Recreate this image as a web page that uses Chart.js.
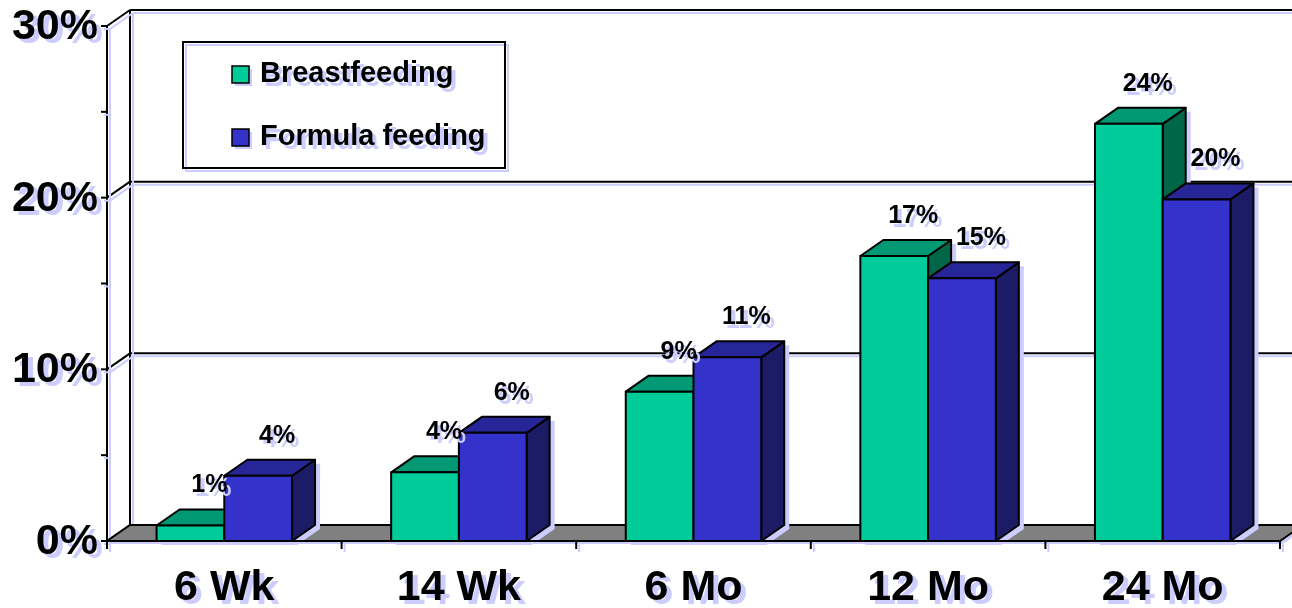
<!DOCTYPE html>
<html><head><meta charset="utf-8">
<script src="https://cdn.jsdelivr.net/npm/chart.js@4.4.0/dist/chart.umd.min.js"></script>
<style>html,body{margin:0;padding:0;background:#fff;overflow:hidden}canvas{display:block}</style>
</head><body>
<canvas id="c" width="1292" height="608"></canvas>
<script>
const categories = ['6 Wk', '14 Wk', '6 Mo', '12 Mo', '24 Mo'];
const breastfeeding = [0.9, 4.0, 8.7, 16.6, 24.3];
const formulaFeeding = [3.8, 6.3, 10.7, 15.3, 19.9];
const breastfeedingLabels = ['1%', '4%', '9%', '17%', '24%'];
const formulaFeedingLabels = ['4%', '6%', '11%', '15%', '20%'];
const yTickValues = [0, 10, 20, 30];
const yMinorTickValues = [5, 15, 25];
const seriesNames = ['Breastfeeding', 'Formula feeding'];

const FRONT = ['#00CC99', '#3333CC'];
const TOP = ['#009973', '#262699'];
const SIDE = ['#006648', '#1C1C66'];
const SH = '#CCCCFF';
const DX = 23, DY = 16;
const FONT = '"Liberation Sans", Arial, sans-serif';

function shadowOn(ctx, ox, oy) { ctx.shadowColor = SH; ctx.shadowOffsetX = ox; ctx.shadowOffsetY = oy; ctx.shadowBlur = 0; }
function poly(ctx, pts) { ctx.beginPath(); ctx.moveTo(pts[0][0], pts[0][1]); for (let i = 1; i < pts.length; i++) ctx.lineTo(pts[i][0], pts[i][1]); ctx.closePath(); }
function line(ctx, x1, y1, x2, y2) { ctx.beginPath(); ctx.moveTo(x1, y1); ctx.lineTo(x2, y2); ctx.stroke(); }

function barBox(el) {
  const p = el.getProps(['x', 'y', 'base', 'width'], true);
  return { x0: p.x - p.width / 2, x1: p.x + p.width / 2, yt: p.y, yb: p.base, cx: p.x };
}

const threeD = {
  id: 'threeD',
  beforeDatasetsDraw(chart) {
    const ctx = chart.ctx, a = chart.chartArea, x = chart.scales.x, y = chart.scales.y;
    const y0 = y.getPixelForValue(0);
    const catW = x.getPixelForValue(1) - x.getPixelForValue(0);
    const L = a.left, R = a.right;
    ctx.save();
    ctx.lineWidth = 2; ctx.strokeStyle = '#000'; ctx.lineJoin = 'round';
    shadowOn(ctx, 3, 3);
    yTickValues.forEach(v => {
      if (v === 0) return;
      const py = y.getPixelForValue(v) - DY;
      line(ctx, L + DX, py, R + DX + 40, py);
    });
    line(ctx, L + DX, y.getPixelForValue(30) - DY, L + DX, y0 - DY);
    yTickValues.forEach(v => {
      const py = y.getPixelForValue(v);
      line(ctx, L, py, L + DX, py - DY);
    });
    line(ctx, L, y.getPixelForValue(30), L, y0);
    yTickValues.concat(yMinorTickValues).forEach(v => {
      const py = y.getPixelForValue(v);
      line(ctx, L - 6, py, L, py);
    });
    poly(ctx, [[L, y0], [R, y0], [R + DX, y0 - DY], [L + DX, y0 - DY]]);
    ctx.fillStyle = '#808080'; ctx.fill();
    ctx.shadowColor = 'transparent';
    ctx.stroke();
    shadowOn(ctx, 3, 3);
    for (let i = 0; i <= categories.length; i++) {
      const px = x.getPixelForValue(0) - catW / 2 + i * catW;
      line(ctx, px, y0, px, y0 + 8);
    }
    ctx.restore();
  },
  afterDatasetsDraw(chart) {
    const ctx = chart.ctx;
    const metas = [chart.getDatasetMeta(0).data, chart.getDatasetMeta(1).data];
    ctx.save();
    ctx.fillStyle = SH;
    metas.forEach(m => m.forEach(el => {
      const b = barBox(el), ox = 5, oy = 4;
      poly(ctx, [[b.x0 + ox, b.yb + oy], [b.x0 + ox, b.yt + oy], [b.x0 + DX + ox, b.yt - DY + oy], [b.x1 + DX + ox, b.yt - DY + oy], [b.x1 + DX + ox, b.yb - DY + oy], [b.x1 + ox, b.yb + oy]]);
      ctx.fill();
    }));
    ctx.lineWidth = 2; ctx.strokeStyle = '#000'; ctx.lineJoin = 'round';
    for (let i = 0; i < categories.length; i++) {
      for (let d = 0; d < 2; d++) {
        const b = barBox(metas[d][i]);
        poly(ctx, [[b.x1, b.yt], [b.x1 + DX, b.yt - DY], [b.x1 + DX, b.yb - DY], [b.x1, b.yb]]);
        ctx.fillStyle = SIDE[d]; ctx.fill(); ctx.stroke();
        poly(ctx, [[b.x0, b.yt], [b.x0 + DX, b.yt - DY], [b.x1 + DX, b.yt - DY], [b.x1, b.yt]]);
        ctx.fillStyle = TOP[d]; ctx.fill(); ctx.stroke();
        poly(ctx, [[b.x0, b.yt], [b.x1, b.yt], [b.x1, b.yb], [b.x0, b.yb]]);
        ctx.fillStyle = FRONT[d]; ctx.fill(); ctx.stroke();
      }
    }
    const a = chart.chartArea, y0 = chart.scales.y.getPixelForValue(0);
    line(ctx, a.left, y0, a.right, y0);
    ctx.restore();
  },
  afterDraw(chart) {
    const ctx = chart.ctx, a = chart.chartArea, x = chart.scales.x, y = chart.scales.y;
    const metas = [chart.getDatasetMeta(0).data, chart.getDatasetMeta(1).data];
    const lbls = [breastfeedingLabels, formulaFeedingLabels];
    ctx.save();
    function txt(s, px, py, font, align, ox, oy) {
      ctx.font = font; ctx.textAlign = align; ctx.textBaseline = 'middle';
      ctx.fillStyle = SH; ctx.fillText(s, px + ox, py + oy);
      ctx.fillStyle = '#000'; ctx.fillText(s, px, py);
    }
    metas.forEach((m, d) => m.forEach((el, i) => {
      const b = barBox(el);
      txt(lbls[d][i], b.cx + 19, b.yt - 40, 'bold 25px ' + FONT, 'center', 4, 4);
    }));
    yTickValues.forEach(v => {
      txt(v + '%', a.left - 9, y.getPixelForValue(v) + 1, 'bold 43px ' + FONT, 'right', 5, 4);
    });
    categories.forEach((c, i) => {
      txt(c, x.getPixelForValue(i), 588, 'bold 43px ' + FONT, 'center', 5, 4);
    });
    ctx.lineWidth = 2; ctx.strokeStyle = '#000';
    shadowOn(ctx, 3, 3);
    ctx.strokeRect(183, 42, 322, 126);
    ctx.lineWidth = 1.5;
    const ly = [74, 137];
    for (let d = 0; d < 2; d++) {
      shadowOn(ctx, 3, 3);
      ctx.fillStyle = FRONT[d];
      ctx.fillRect(232, ly[d] - 8, 17, 17);
      ctx.shadowColor = 'transparent';
      ctx.strokeRect(232, ly[d] - 8, 17, 17);
      txt(seriesNames[d], 260, ly[d], 'bold 29px ' + FONT, 'left', 4, 4);
    }
    ctx.restore();
  }
};

new Chart(document.getElementById('c'), {
  type: 'bar',
  data: {
    labels: categories,
    datasets: [
      { label: seriesNames[0], data: breastfeeding, backgroundColor: FRONT[0], borderColor: '#000', borderWidth: 2 },
      { label: seriesNames[1], data: formulaFeeding, backgroundColor: FRONT[1], borderColor: '#000', borderWidth: 2 }
    ]
  },
  options: {
    responsive: false,
    animation: false,
    layout: { padding: { left: 107, right: 12, top: 26, bottom: 67 } },
    datasets: { bar: { categoryPercentage: 0.5775, barPercentage: 1 } },
    scales: {
      x: { display: false },
      y: { display: false, min: 0, max: 30 }
    },
    plugins: { legend: { display: false }, tooltip: { enabled: false } }
  },
  plugins: [threeD]
});
</script>
</body></html>
